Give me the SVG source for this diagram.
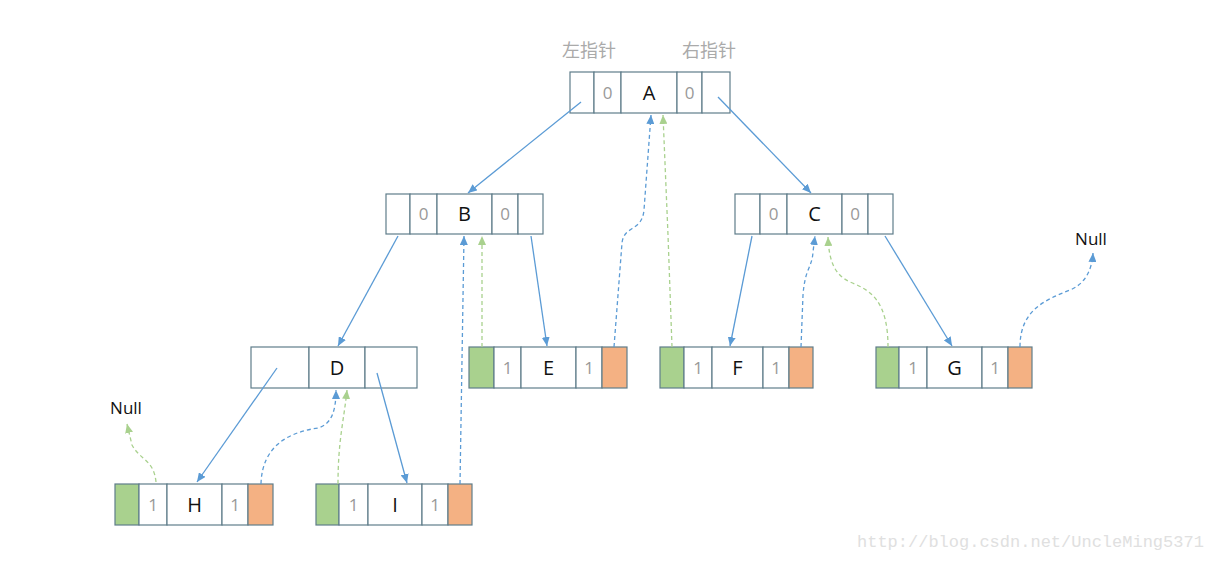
<svg xmlns="http://www.w3.org/2000/svg" width="1223" height="562" viewBox="0 0 1223 562">
<style>
.cell{fill:#fff;stroke:#5f7d8a;stroke-width:1.2}
.g{fill:#a9d18e;stroke:#5f7d8a;stroke-width:1.2}
.o{fill:#f4b183;stroke:#5f7d8a;stroke-width:1.2}
.lt{font-family:"Open Sans","Liberation Sans",sans-serif;font-size:20px;fill:#111;text-anchor:middle}
.dg{font-family:"Open Sans","Liberation Sans",sans-serif;font-size:17px;fill:#999;text-anchor:middle}
.nl{font-family:"Open Sans","Liberation Sans",sans-serif;font-size:17px;fill:#111;text-anchor:middle}
.cn{font-family:"Noto Sans CJK SC",sans-serif;font-size:18px;fill:#aaa;text-anchor:middle}
.wm{font-family:"Liberation Mono",monospace;font-size:17px;fill:#e0e0e0}
.sb{fill:none;stroke:#5b9bd5;stroke-width:1.3}
.db{fill:none;stroke:#5b9bd5;stroke-width:1.3;stroke-dasharray:4 3}
.dgr{fill:none;stroke:#a9d18e;stroke-width:1.3;stroke-dasharray:4 3}
</style>
<defs>
<marker id="ab" markerUnits="userSpaceOnUse" markerWidth="10" markerHeight="8" refX="9" refY="4" orient="auto"><path d="M0,0 L9,4 L0,8 z" fill="#5b9bd5"/></marker>
<marker id="ag" markerUnits="userSpaceOnUse" markerWidth="10" markerHeight="8" refX="9" refY="4" orient="auto"><path d="M0,0 L9,4 L0,8 z" fill="#a9d18e"/></marker>
</defs>
<rect width="1223" height="562" fill="#fff"/>
<text class="cn" x="589" y="57">左指针</text>
<text class="cn" x="709" y="57">右指针</text>
<g id="A">
<rect class="cell" x="570" y="72" width="24" height="41"/><rect class="cell" x="594" y="72" width="27" height="41"/><rect class="cell" x="621" y="72" width="56" height="41"/><rect class="cell" x="677" y="72" width="25" height="41"/><rect class="cell" x="702" y="72" width="28" height="41"/>
<text class="dg" x="607.5" y="99">0</text><text class="lt" x="649" y="100">A</text><text class="dg" x="689.5" y="99">0</text>
</g>
<g id="B">
<rect class="cell" x="386" y="194" width="24" height="40"/><rect class="cell" x="410" y="194" width="27" height="40"/><rect class="cell" x="437" y="194" width="55" height="40"/><rect class="cell" x="492" y="194" width="26" height="40"/><rect class="cell" x="518" y="194" width="25" height="40"/>
<text class="dg" x="423.5" y="220">0</text><text class="lt" x="464.5" y="221">B</text><text class="dg" x="505" y="220">0</text>
</g>
<g id="C">
<rect class="cell" x="735" y="194" width="25" height="40"/><rect class="cell" x="760" y="194" width="27" height="40"/><rect class="cell" x="787" y="194" width="55" height="40"/><rect class="cell" x="842" y="194" width="26" height="40"/><rect class="cell" x="868" y="194" width="25" height="40"/>
<text class="dg" x="773.5" y="220">0</text><text class="lt" x="814.5" y="221">C</text><text class="dg" x="855" y="220">0</text>
</g>
<g id="D">
<rect class="cell" x="251" y="347" width="58" height="41"/><rect class="cell" x="309" y="347" width="56" height="41"/><rect class="cell" x="365" y="347" width="52" height="41"/>
<text class="lt" x="337" y="375">D</text>
</g>
<g id="E">
<rect class="g" x="469" y="347" width="25" height="41"/><rect class="cell" x="494" y="347" width="27" height="41"/><rect class="cell" x="521" y="347" width="55" height="41"/><rect class="cell" x="576" y="347" width="26" height="41"/><rect class="o" x="602" y="347" width="25" height="41"/>
<text class="dg" x="507.5" y="374">1</text><text class="lt" x="548.5" y="375">E</text><text class="dg" x="589" y="374">1</text>
</g>
<g id="F">
<rect class="g" x="660" y="347" width="24" height="41"/><rect class="cell" x="684" y="347" width="28" height="41"/><rect class="cell" x="712" y="347" width="51" height="41"/><rect class="cell" x="763" y="347" width="26" height="41"/><rect class="o" x="789" y="347" width="24" height="41"/>
<text class="dg" x="698" y="374">1</text><text class="lt" x="737.5" y="375">F</text><text class="dg" x="776" y="374">1</text>
</g>
<g id="G">
<rect class="g" x="876" y="347" width="23" height="41"/><rect class="cell" x="899" y="347" width="28" height="41"/><rect class="cell" x="927" y="347" width="55" height="41"/><rect class="cell" x="982" y="347" width="26" height="41"/><rect class="o" x="1008" y="347" width="24" height="41"/>
<text class="dg" x="913" y="374">1</text><text class="lt" x="954.5" y="375">G</text><text class="dg" x="995" y="374">1</text>
</g>
<g id="H">
<rect class="g" x="115" y="484" width="24" height="41"/><rect class="cell" x="139" y="484" width="28" height="41"/><rect class="cell" x="167" y="484" width="55" height="41"/><rect class="cell" x="222" y="484" width="26" height="41"/><rect class="o" x="248" y="484" width="25" height="41"/>
<text class="dg" x="153" y="511">1</text><text class="lt" x="194.5" y="512">H</text><text class="dg" x="235" y="511">1</text>
</g>
<g id="I">
<rect class="g" x="316" y="484" width="23" height="41"/><rect class="cell" x="339" y="484" width="29" height="41"/><rect class="cell" x="368" y="484" width="54" height="41"/><rect class="cell" x="422" y="484" width="26" height="41"/><rect class="o" x="448" y="484" width="24" height="41"/>
<text class="dg" x="353.5" y="511">1</text><text class="lt" x="395" y="512">I</text><text class="dg" x="435" y="511">1</text>
</g>
<g id="null1"><text class="nl" x="1091" y="245">Null</text></g>
<g id="null2"><text class="nl" x="126" y="414">Null</text></g>
<g id="connectors">
<path class="sb" d="M581,102 L468,193" marker-end="url(#ab)"/>
<path class="sb" d="M718,97 L811,193" marker-end="url(#ab)"/>
<path class="sb" d="M398,236 L338,346" marker-end="url(#ab)"/>
<path class="sb" d="M531,236 L547,346" marker-end="url(#ab)"/>
<path class="sb" d="M752,236 L730,346" marker-end="url(#ab)"/>
<path class="sb" d="M885,236 L952,346" marker-end="url(#ab)"/>
<path class="sb" d="M277,368 L197,482" marker-end="url(#ab)"/>
<path class="sb" d="M377,373 L407,483" marker-end="url(#ab)"/>
<path class="db" d="M614,347 L622,243 C624,225 642,232 644,210 L651,115" marker-end="url(#ab)"/>
<path class="db" d="M460,484 L464,236" marker-end="url(#ab)"/>
<path class="db" d="M801,347 L803,295 C805,268 812,268 813,252 L815,236" marker-end="url(#ab)"/>
<path class="db" d="M261,484 C262,445 290,432 318,428 C332,424 336,410 336,390" marker-end="url(#ab)"/>
<path class="db" d="M1020,347 C1020,310 1045,300 1070,290 C1085,284 1092,270 1093,253" marker-end="url(#ab)"/>
<path class="dgr" d="M672,347 L668,235 L663,115" marker-end="url(#ag)"/>
<path class="dgr" d="M482,347 L482,236" marker-end="url(#ag)"/>
<path class="dgr" d="M888,347 C888,300 870,290 850,282 C835,275 829,262 828,237" marker-end="url(#ag)"/>
<path class="dgr" d="M156,482 C154,460 140,460 132,445 L127,424" marker-end="url(#ag)"/>
<path class="dgr" d="M338,484 C338,440 344,420 347,390" marker-end="url(#ag)"/>
</g>
<text class="wm" x="857" y="547">http://blog.csdn.net/UncleMing5371</text>
</svg>
